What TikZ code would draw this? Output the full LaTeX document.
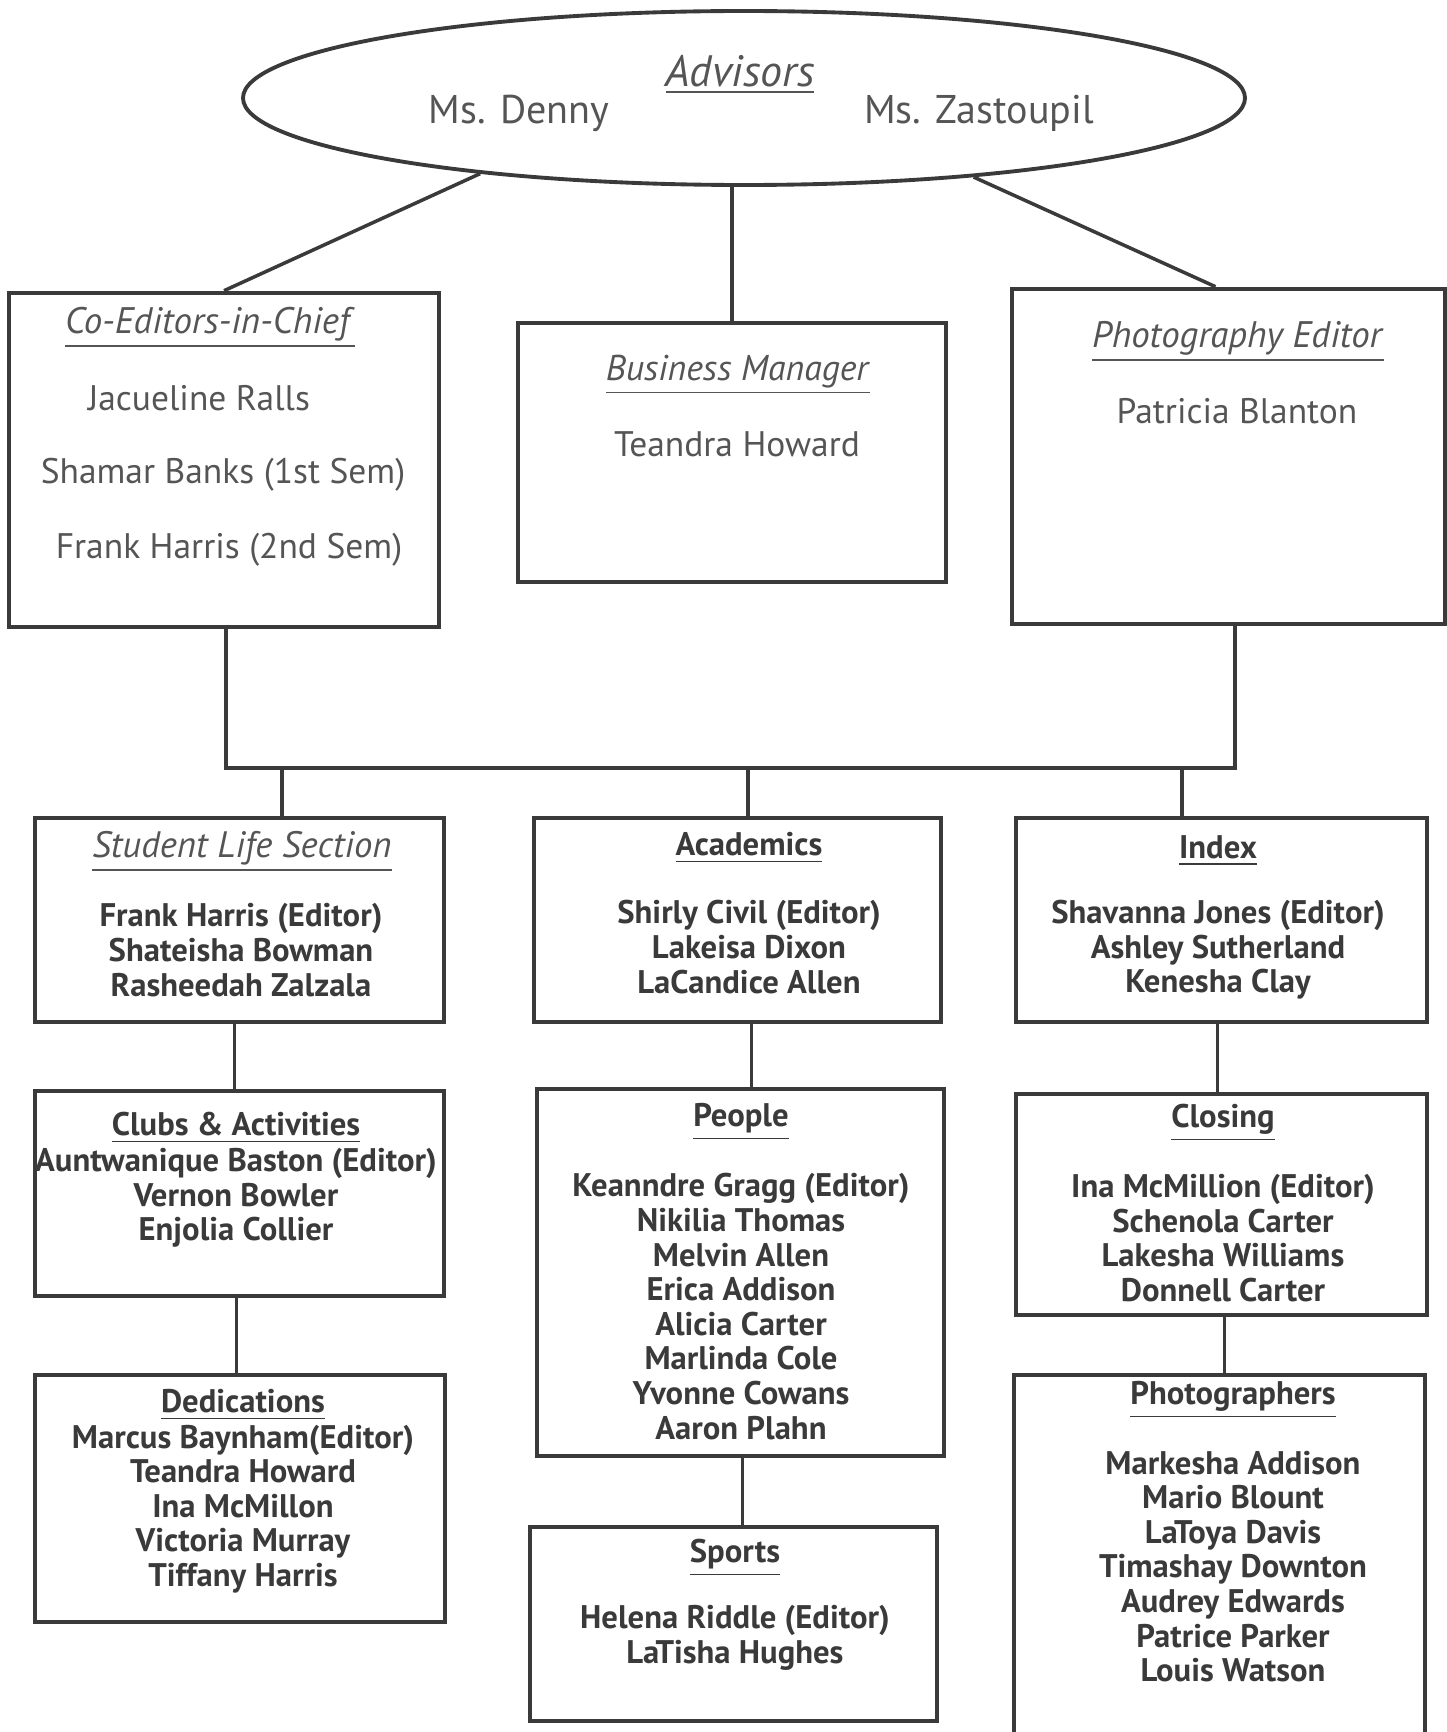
\documentclass[tikz,border=0pt]{standalone}
\usepackage{fontspec}
\setmainfont{PT Sans}
\usepackage{tikz}
\usetikzlibrary{shapes.geometric,positioning}
\definecolor{ink}{HTML}{3A3A3A}
\definecolor{softink}{HTML}{555555}
\tikzset{
  box/.style={
    shape = rectangle,
    draw = ink,
    line width = 1.3pt,
    inner sep = 0pt
  },
  link/.style={
    draw = ink,
    line width = 1pt
  },
  head/.style={
    font = \fontsize{10.1}{12}\selectfont,
    text = softink,
    inner sep = 1pt
  },
  headT/.style={
    font = \fontsize{10.5}{12}\selectfont,
    text = softink,
    inner sep = 1pt,
    yshift = -1.9pt
  },
  title/.style={
    font = \fontsize{9.3}{10}\selectfont\bfseries,
    text = ink,
    inner sep = 1pt,
    yshift = -1.7pt
  },
  names/.style={
    font = \fontsize{9.3}{9.85}\selectfont\bfseries,
    text = ink,
    align = center,
    inner sep = 1pt
  }
}
\begin{document}
\begin{tikzpicture}[y=-1cm]
        \useasboundingbox (0,0) rectangle (14.47,17.32);

        % advisors
        \node[ellipse, draw=ink, line width=1.1pt, minimum width=10.02cm, minimum height=1.74cm] (adv) at (7.44,0.98) {};
        \node[headT, font=\fontsize{12.5}{13}\selectfont] (advT) at (7.40,0.68) {\underline{\textit{Advisors}}};
        \node[head, font=\fontsize{11.4}{12}\selectfont] (denny) at (5.19,1.13) {Ms. Denny};
        \node[head, font=\fontsize{11.4}{12}\selectfont] (zast) at (9.79,1.13) {Ms. Zastoupil};

        % top row
        \node[box, minimum width=4.30cm, minimum height=3.34cm] (coed) at (2.24,4.60) {};
        \node[box, minimum width=4.28cm, minimum height=2.59cm] (busm) at (7.32,4.525) {};
        \node[box, minimum width=4.33cm, minimum height=3.35cm] (photo) at (12.285,4.565) {};

        \node[headT] (coedT) at (2.10,3.21) {\underline{\textit{Co-Editors-in-Chief}}};
        \node[head] (coedA) at (1.99,3.98) {Jacueline Ralls};
        \node[head] (coedB) at (2.23,4.75) {Shamar Banks (1st Sem)};
        \node[head] (coedC) at (2.29,5.50) {Frank Harris (2nd Sem)};
        \node[headT, font=\fontsize{10.2}{12}\selectfont] (busmT) at (7.38,3.68) {\underline{\textit{Business Manager}}};
        \node[head] (busmA) at (7.37,4.44) {Teandra Howard};
        \node[headT] (photoT) at (12.38,3.35) {\underline{\textit{Photography Editor}}};
        \node[head] (photoA) at (12.37,4.11) {Patricia Blanton};

        \draw[link] (adv.196) -- (coed.north);
        \draw[link] (adv.south -| busm.north) -- (busm.north);
        \draw[link] (adv.341) -- ([xshift=-0.13cm]photo.north);

        % bus
        \coordinate (busL) at (2.26,7.68);
        \coordinate (busR) at (12.35,7.68);
        \draw[link] (coed.south -| busL) -- (busL) -- (busR) -- (photo.south -| busR);

        % sections
        \node[box, minimum width=4.09cm, minimum height=2.04cm] (slife) at (2.395,9.20) {};
        \node[box, minimum width=4.07cm, minimum height=2.04cm] (acad) at (7.375,9.20) {};
        \node[box, minimum width=4.11cm, minimum height=2.04cm] (index) at (12.215,9.20) {};
        \node[box, minimum width=4.09cm, minimum height=2.05cm] (clubs) at (2.395,11.935) {};
        \node[box, minimum width=4.07cm, minimum height=3.67cm] (people) at (7.405,12.725) {};
        \node[box, minimum width=4.11cm, minimum height=2.21cm] (closing) at (12.215,12.045) {};
        \node[box, minimum width=4.10cm, minimum height=2.47cm] (dedic) at (2.40,14.985) {};
        \node[box, minimum width=4.07cm, minimum height=1.94cm] (sports) at (7.335,16.24) {};
        \node[box, minimum width=4.11cm, minimum height=3.90cm] (phot) at (12.195,15.70) {};

        \coordinate (dropA) at (2.82,7.68);
        \coordinate (dropB) at (7.48,7.68);
        \coordinate (dropC) at (11.82,7.68);
        \draw[link] (dropA) -- (dropA |- slife.north);
        \draw[link] (dropB) -- (dropB |- acad.north);
        \draw[link] (dropC) -- (dropC |- index.north);

        \draw[link] ([xshift=-0.05cm]slife.south) -- ([xshift=-0.05cm]slife.south |- clubs.north);
        \draw[link] ([xshift=-0.03cm]clubs.south) -- ([xshift=-0.03cm]clubs.south |- dedic.north);
        \draw[link] ([xshift=0.14cm]acad.south) -- ([xshift=0.14cm]acad.south |- people.north);
        \draw[link] ([xshift=0.02cm]people.south) -- ([xshift=0.02cm]people.south |- sports.north);
        \draw[link] ([xshift=-0.04cm]index.south) -- ([xshift=-0.04cm]index.south |- closing.north);
        \draw[link] ([xshift=0.03cm]closing.south) -- ([xshift=0.03cm]closing.south |- phot.north);

        % section texts
        \node[headT, font=\fontsize{10.45}{12}\selectfont] (slifeT) at (2.42,8.45) {\underline{\textit{Student Life Section}}};
        \node[names] (slifeN) at (2.41,9.50) {Frank Harris (Editor)\\Shateisha Bowman\\Rasheedah Zalzala};
        \node[title] (acadT) at (7.49,8.42) {\underline{Academics}};
        \node[names] (acadN) at (7.49,9.47) {Shirly Civil (Editor)\\Lakeisa Dixon\\LaCandice Allen};
        \node[title] (indexT) at (12.18,8.45) {\underline{Index}};
        \node[names] (indexN) at (12.18,9.50) {Shavanna Jones (Editor)\\Ashley Sutherland\\Kenesha Clay};

        \node[title] (clubsT) at (2.36,11.22) {\underline{Clubs \& Activities}};
        \node[names] (clubsN) at (2.36,11.98) {Auntwanique Baston (Editor)\\Vernon Bowler\\Enjolia Collier};
        \node[title] (peopleT) at (7.41,11.16) {\underline{People}};
        \node[names] (peopleN) at (7.41,13.065) {Keanndre Gragg (Editor)\\Nikilia Thomas\\Melvin Allen\\Erica Addison\\Alicia Carter\\Marlinda Cole\\Yvonne Cowans\\Aaron Plahn};
        \node[title] (closingT) at (12.23,11.17) {\underline{Closing}};
        \node[names] (closingN) at (12.23,12.38) {Ina McMillion (Editor)\\Schenola Carter\\Lakesha Williams\\Donnell Carter};

        \node[title] (dedicT) at (2.43,13.99) {\underline{Dedications}};
        \node[names] (dedicN) at (2.43,15.09) {Marcus Baynham(Editor)\\Teandra Howard\\Ina McMillon\\Victoria Murray\\Tiffany Harris};
        \node[title] (sportsT) at (7.35,15.52) {\underline{Sports}};
        \node[names] (sportsN) at (7.35,16.375) {Helena Riddle (Editor)\\LaTisha Hughes};
        \node[title] (photT) at (12.33,13.94) {\underline{Photographers}};
        \node[names] (photN) at (12.33,15.665) {Markesha Addison\\Mario Blount\\LaToya Davis\\Timashay Downton\\Audrey Edwards\\Patrice Parker\\Louis Watson};
\end{tikzpicture}
\end{document}
